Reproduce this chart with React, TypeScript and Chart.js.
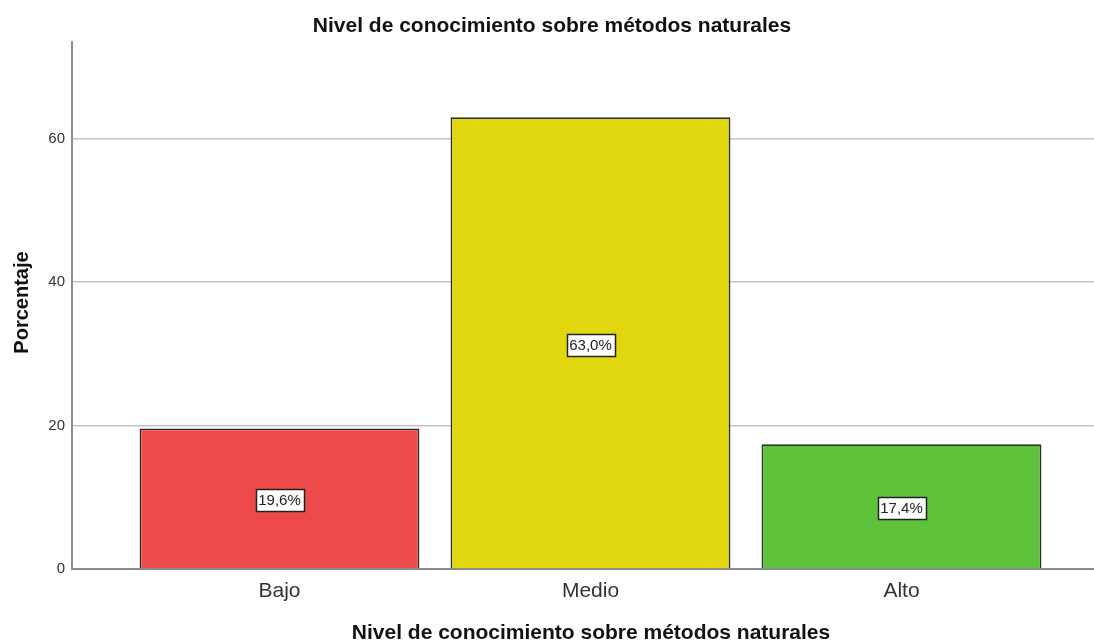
import React, { useEffect, useRef } from "react";
import { Chart, registerables } from "chart.js";

Chart.register(...registerables);

const categories = ["Bajo", "Medio", "Alto"];
const percentages = [19.6, 63.0, 17.4];
const yTicks = [0, 20, 40, 60];
const chartTitle = "Nivel de conocimiento sobre métodos naturales";
const xTitle = "Nivel de conocimiento sobre métodos naturales";
const yTitle = "Porcentaje";

const barColors = ["#EC4A4B", "#E1D70E", "#5EC33A"];
const FONT = "'Liberation Sans', Arial, Helvetica, sans-serif";

const textPlugin = {
  id: "textPlugin",
  afterDatasetsDraw(chart: any) {
    const ctx = chart.ctx;
    const meta = chart.getDatasetMeta(0);
    ctx.save();
    meta.data.forEach((bar: any, i: number) => {
      const v = percentages[i];
      const label = v.toFixed(1).replace(".", ",") + "%";
      const midY = (bar.y + bar.base) / 2 + 2;
      ctx.font = `15px ${FONT}`;
      const w = ctx.measureText(label).width + 5;
      const h = 22;
      const x0 = Math.round(bar.x - w / 2) + 0.5;
      const y0 = Math.round(midY - h / 2) + 0.5;
      ctx.fillStyle = "#ffffff";
      ctx.fillRect(x0, y0, Math.round(w), h);
      ctx.strokeStyle = "#222222";
      ctx.lineWidth = 1.5;
      ctx.strokeRect(x0, y0, Math.round(w), h);
      ctx.fillStyle = "#222222";
      ctx.textAlign = "center";
      ctx.textBaseline = "middle";
      ctx.fillText(label, bar.x, midY + 1);
    });
    ctx.restore();
  },
  afterDraw(chart: any) {
    const ctx = chart.ctx;
    ctx.save();
    ctx.fillStyle = "#111111";
    ctx.textBaseline = "alphabetic";
    ctx.textAlign = "center";
    ctx.font = `bold 21px ${FONT}`;
    ctx.fillText(chartTitle, 552, 31.5);
    ctx.fillText(xTitle, 591, 639);
    ctx.translate(27.5, 302.5);
    ctx.rotate(-Math.PI / 2);
    ctx.font = `bold 20px ${FONT}`;
    ctx.fillText(yTitle, 0, 0);
    ctx.restore();
  },
};

export default function App() {
  const canvasRef = useRef<HTMLCanvasElement | null>(null);

  useEffect(() => {
    if (!canvasRef.current) return;
    const chart = new Chart(canvasRef.current, {
      type: "bar",
      data: {
        datasets: [
          {
            data: percentages.map((v, i) => ({ x: i + 1, y: v })),
            backgroundColor: barColors,
            borderColor: "#2e2e2e",
            borderWidth: 1.8,
            barPercentage: 0.9,
            categoryPercentage: 1,
          },
        ],
      },
      options: {
        animation: false,
        responsive: true,
        maintainAspectRatio: false,
        layout: { padding: { top: 42, left: 0, right: 0, bottom: 0 } },
        plugins: {
          legend: { display: false },
          title: { display: false },
          tooltip: { enabled: false },
        },
        scales: {
          x: {
            type: "linear",
            offset: false,
            min: 0.3328,
            max: 3.619,
            afterBuildTicks: (scale: any) => {
              scale.ticks = categories.map((_, i) => ({ value: i + 1 }));
            },
            afterFit: (scale: any) => {
              scale.height = 73;
            },
            ticks: {
              callback: (value: any) => categories[Math.round(Number(value)) - 1] ?? "",
              font: { family: FONT, size: 21 },
              color: "#333333",
              padding: 10,
              maxRotation: 0,
              autoSkip: false,
            },
            grid: { display: false, drawTicks: false, offset: false },
            border: { display: true, color: "#8c8c8c", width: 2 },
          },
          y: {
            min: 0,
            max: 73.5,
            afterBuildTicks: (scale: any) => {
              scale.ticks = yTicks.map((v) => ({ value: v }));
            },
            afterFit: (scale: any) => {
              scale.width = 72;
            },
            ticks: {
              font: { family: FONT, size: 15 },
              color: "#333333",
              padding: 7,
            },
            grid: {
              drawTicks: false,
              color: (c: any) => (c.tick && c.tick.value === 0 ? "rgba(0,0,0,0)" : "#c4c4c4"),
              lineWidth: 1.5,
            },
            border: { display: true, color: "#8c8c8c", width: 2 },
          },
        },
      },
      plugins: [textPlugin],
    });
    return () => chart.destroy();
  }, []);

  return (
    <div style={{ position: "absolute", left: 0, top: 0, width: 1094, height: 642, background: "#ffffff" }}>
      <canvas ref={canvasRef} />
    </div>
  );
}
